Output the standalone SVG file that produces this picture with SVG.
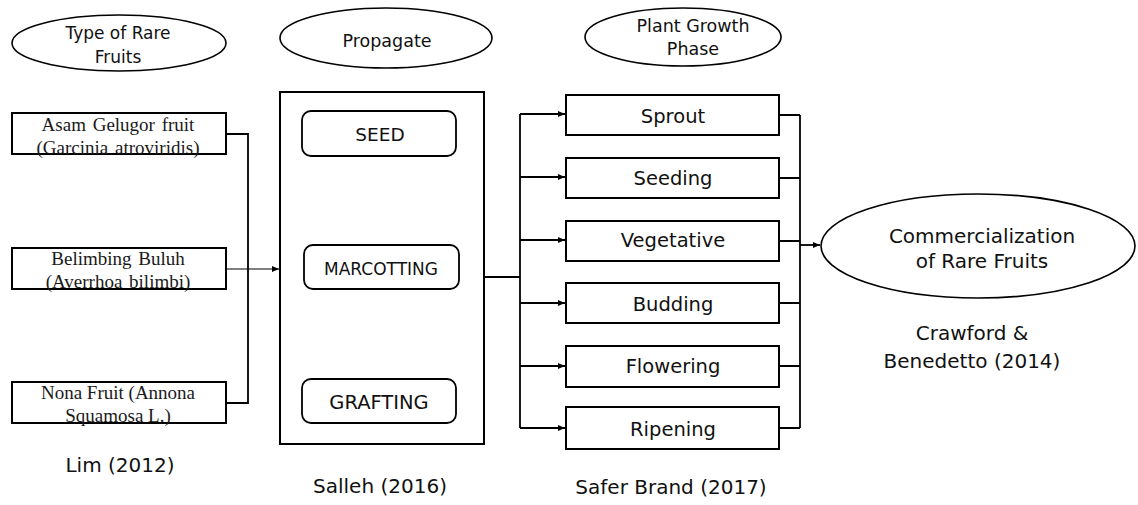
<svg xmlns="http://www.w3.org/2000/svg" width="1138" height="505" viewBox="0 0 1138 505">
  <style>
    .ell { fill: #fff; stroke: #000; stroke-width: 1.6; }
    .box { fill: #fff; stroke: #000; stroke-width: 2; }
    .rbox { fill: #fff; stroke: #000; stroke-width: 1.8; }
    .wire { fill: none; stroke: #000; stroke-width: 1.8; }
    .thin { fill: none; stroke: #000; stroke-width: 1.2; }
    .sans { font-family: "DejaVu Sans", Verdana, sans-serif; fill: #111; text-anchor: middle; }
    .serif { font-family: "Liberation Serif", "Times New Roman", serif; fill: #1a1a1a; text-anchor: middle; font-size: 19px; }
  </style>
  <defs>
    <marker id="arrow" markerWidth="8" markerHeight="8" refX="7" refY="4" orient="auto" markerUnits="userSpaceOnUse">
      <path d="M0,1 L7,4 L0,7 Z" fill="#000"/>
    </marker>
  </defs>
  <rect width="1138" height="505" fill="#fff"/>

  <!-- connectors -->
  <g id="connectors">
    <!-- fruit boxes into propagation -->
    <path class="wire" d="M226,134 H248 V403 H226"/>
    <path class="thin" d="M226,269 H279" marker-end="url(#arrow)"/>
    <!-- propagation out to the growth phases -->
    <path class="wire" d="M484,277 H520"/>
    <path class="wire" d="M520,114 V428"/>
    <path class="wire" d="M520,114 H565" marker-end="url(#arrow)"/>
    <path class="wire" d="M520,177 H565" marker-end="url(#arrow)"/>
    <path class="wire" d="M520,240 H565" marker-end="url(#arrow)"/>
    <path class="wire" d="M520,303 H565" marker-end="url(#arrow)"/>
    <path class="wire" d="M520,366 H565" marker-end="url(#arrow)"/>
    <path class="wire" d="M520,428 H565" marker-end="url(#arrow)"/>
    <!-- phases merge into commercialization -->
    <path class="wire" d="M779,115 H800 M779,178 H800 M779,241 H800 M779,303 H800 M779,366 H800 M779,428 H800"/>
    <path class="wire" d="M800,115 V428"/>
    <path class="wire" d="M800,245 H820" marker-end="url(#arrow)"/>
  </g>

  <!-- column headers -->
  <g id="hdr-fruits">
    <ellipse class="ell" cx="119" cy="43" rx="107" ry="28"/>
    <text class="sans" x="118" y="39" font-size="17">Type of Rare</text>
    <text class="sans" x="118" y="63" font-size="17">Fruits</text>
  </g>
  <g id="hdr-propagate">
    <ellipse class="ell" cx="386" cy="38" rx="106" ry="30"/>
    <text class="sans" x="387" y="47" font-size="17.5">Propagate</text>
  </g>
  <g id="hdr-growth">
    <ellipse class="ell" cx="683" cy="37" rx="98" ry="29"/>
    <text class="sans" x="693" y="32" font-size="17.5">Plant Growth</text>
    <text class="sans" x="693" y="55" font-size="17.5">Phase</text>
  </g>

  <!-- fruit types -->
  <g id="fruit-asam">
    <rect class="box" x="12" y="113" width="214" height="41"/>
    <text class="serif" x="118" y="131" word-spacing="2">Asam Gelugor fruit</text>
    <text class="serif" x="118" y="154" word-spacing="2">(Garcinia atroviridis)</text>
  </g>
  <g id="fruit-belimbing">
    <rect class="box" x="12" y="248" width="214" height="41"/>
    <text class="serif" x="118" y="265" word-spacing="2">Belimbing Buluh</text>
    <text class="serif" x="118" y="288" word-spacing="2">(Averrhoa bilimbi)</text>
  </g>
  <g id="fruit-nona">
    <rect class="box" x="12" y="382" width="214" height="41"/>
    <text class="serif" x="118" y="399">Nona Fruit (Annona</text>
    <text class="serif" x="118" y="422">Squamosa L.)</text>
  </g>
  <text class="sans" x="120" y="472" font-size="20">Lim (2012)</text>

  <!-- propagation methods -->
  <g id="propagate">
    <rect class="box" x="280" y="92" width="204" height="352"/>
  </g>
  <g id="seed">
    <rect class="rbox" x="302" y="111" width="154" height="45" rx="9"/>
    <text class="sans" x="380" y="141" font-size="18.5">SEED</text>
  </g>
  <g id="marcotting">
    <rect class="rbox" x="304" y="245" width="155" height="44" rx="9"/>
    <text class="sans" x="381" y="275" font-size="17">MARCOTTING</text>
  </g>
  <g id="grafting">
    <rect class="rbox" x="302" y="379" width="154" height="44" rx="9"/>
    <text class="sans" x="379" y="409" font-size="19.5">GRAFTING</text>
  </g>
  <text class="sans" x="380" y="493" font-size="20">Salleh (2016)</text>

  <!-- growth phases -->
  <g id="sprout">
    <rect class="box" x="566" y="95" width="213" height="40"/>
    <text class="sans" x="673" y="123" font-size="19.5">Sprout</text>
  </g>
  <g id="seeding">
    <rect class="box" x="566" y="158" width="213" height="40"/>
    <text class="sans" x="673" y="185" font-size="19.5">Seeding</text>
  </g>
  <g id="vegetative">
    <rect class="box" x="566" y="221" width="213" height="40"/>
    <text class="sans" x="673" y="247" font-size="19.5">Vegetative</text>
  </g>
  <g id="budding">
    <rect class="box" x="566" y="283" width="213" height="40"/>
    <text class="sans" x="673" y="311" font-size="19.5">Budding</text>
  </g>
  <g id="flowering">
    <rect class="box" x="566" y="346" width="213" height="41"/>
    <text class="sans" x="673" y="373" font-size="19.5">Flowering</text>
  </g>
  <g id="ripening">
    <rect class="box" x="566" y="407" width="213" height="42"/>
    <text class="sans" x="673" y="436" font-size="19.5">Ripening</text>
  </g>
  <text class="sans" x="671" y="494" font-size="20">Safer Brand (2017)</text>

  <!-- outcome -->
  <g id="commercialization">
    <ellipse class="ell" cx="978" cy="246" rx="157" ry="52"/>
    <text class="sans" x="982" y="243" font-size="20">Commercialization</text>
    <text class="sans" x="982" y="268" font-size="20">of Rare Fruits</text>
  </g>
  <text class="sans" x="972" y="340" font-size="20">Crawford &amp;</text>
  <text class="sans" x="972" y="368" font-size="20">Benedetto (2014)</text>
</svg>
